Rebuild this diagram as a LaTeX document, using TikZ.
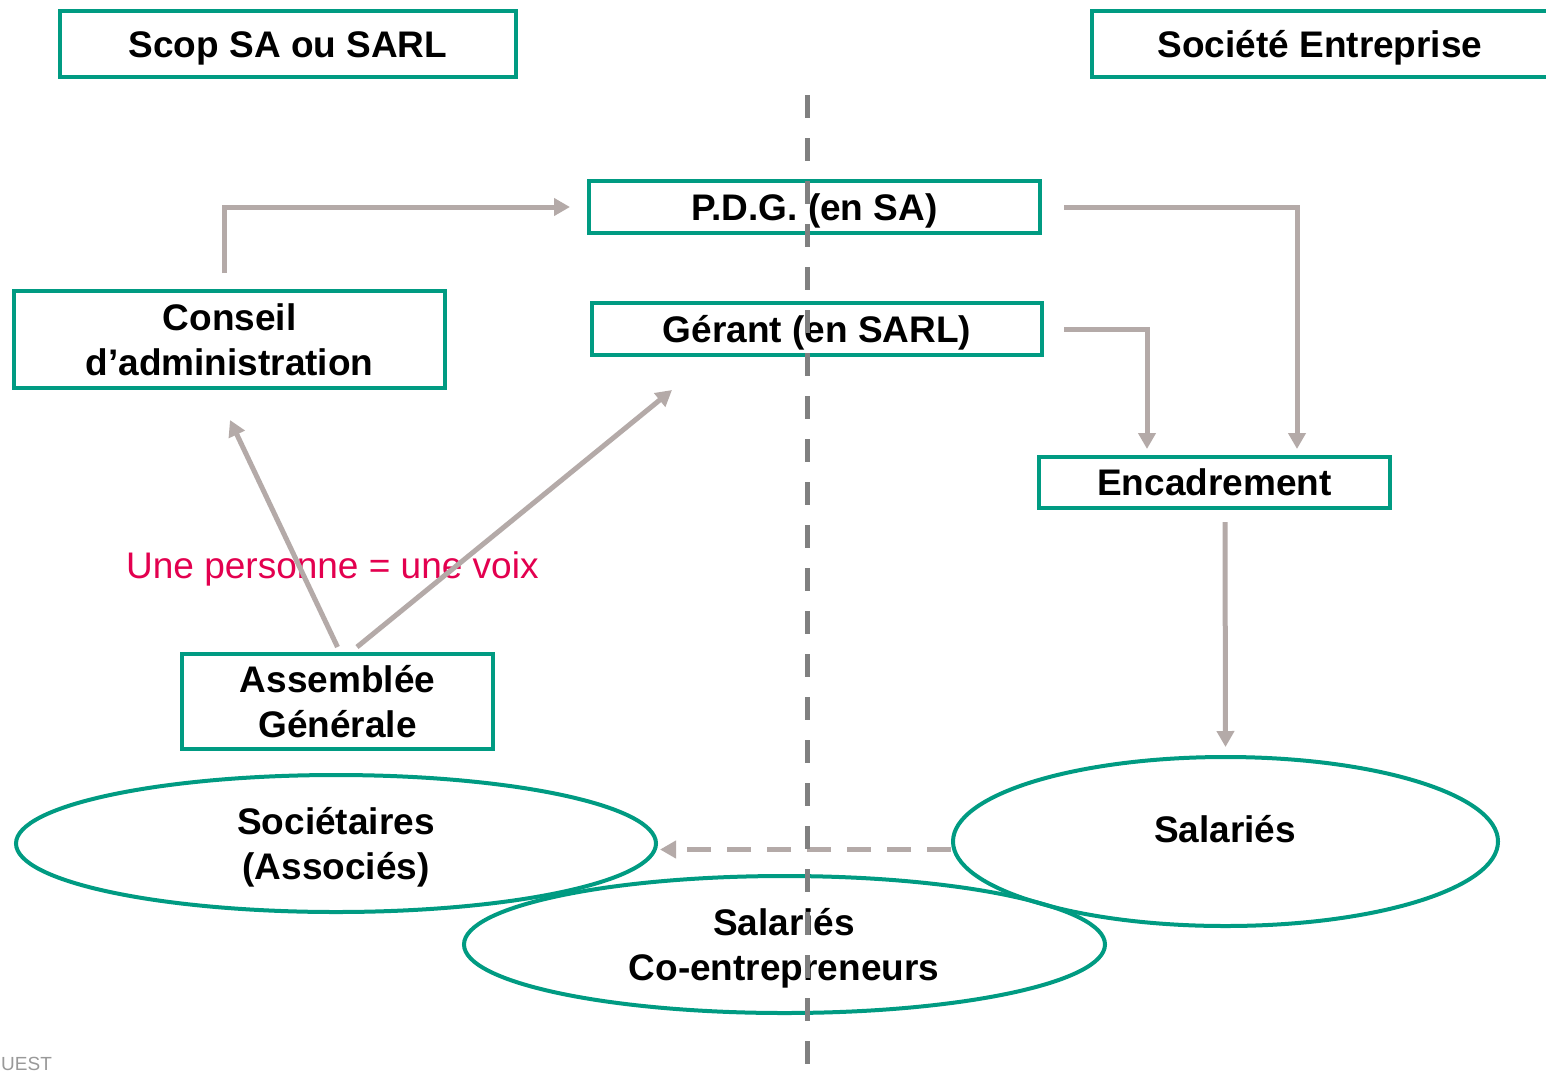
\documentclass[tikz,border=0pt]{standalone}
\usepackage{fontspec}
\setmainfont{Liberation Sans}
\usetikzlibrary{arrows.meta,calc,shapes.geometric}
\definecolor{teal1}{RGB}{0,155,130}
\definecolor{arrgray}{RGB}{180,170,168}
\definecolor{sepgray}{RGB}{128,128,128}
\definecolor{voixred}{RGB}{227,0,79}
\begin{document}
\begin{tikzpicture}[x=1pt,y=-1pt,
  box/.style={draw=teal1,line width=4pt,inner sep=0pt,align=center,font=\fontsize{37}{45}\selectfont\bfseries},
  one/.style={text height=32pt,text depth=6pt},
  ell/.style={draw=teal1,line width=4pt,ellipse,inner sep=0pt},
  lbl/.style={align=center,font=\fontsize{37}{45}\selectfont\bfseries},
  arr/.style={draw=arrgray,line width=5pt,-{Triangle[length=16pt,width=17pt]}},
  plain/.style={draw=arrgray,line width=5pt}]
\useasboundingbox (0,0) rectangle (1546,1074);
\fill[white] (0,0) rectangle (1546,1074);
% boxes
\node[box,one,minimum width=456pt,minimum height=66pt] (scop) at (288,44) {Scop SA ou SARL};
\node[box,one,minimum width=460pt,minimum height=66pt] (soc) at (1322,44) {\hspace*{-4pt}Société Entreprise};
\node[box,one,minimum width=451pt,minimum height=52pt] (pdg) at (814.5,207) {P.D.G. (en SA)};
\node[box,one,minimum width=450pt,minimum height=52pt] (ger) at (817,329) {Gérant (en SARL)};
\node[box,minimum width=431pt,minimum height=97pt] (cons) at (229.5,339.5) {Conseil\\d’administration};
\node[box,one,minimum width=351pt,minimum height=51pt] (enc) at (1214.5,482.5) {Encadrement};
\node[box,minimum width=311pt,minimum height=95pt] (ag) at (337.5,701.5) {Assemblée\\Générale};
% ellipses
\node[ell,minimum width=640pt,minimum height=137pt] (assoc) at (336,843.5) {};
\node[lbl] (assoctxt) at (336,847) {Sociétaires\\(Associés)};
\node[ell,minimum width=545pt,minimum height=169pt] (sal) at (1225.5,841.5) {};
\node[lbl] (saltxt) at (1225,829) {Salariés};
\node[ell,minimum width=641pt,minimum height=137pt] (coent) at (784.5,944.5) {};
\node[lbl] (coenttxt) at (784,948) {Salariés\\Co-entrepreneurs};
% red text
\node[text=voixred,font=\fontsize{37}{45}\selectfont,anchor=west,inner sep=0pt] (voix) at (126,569) {Une personne = une voix};
% footer fragment
\node[text=black!40,font=\fontsize{19}{23}\selectfont,anchor=base west,inner sep=0pt] (ouest) at (1,1070) {UEST};
% connectors
\draw[arr] ($(cons.north)+(-5.5,-16)$) |- ($(pdg.west)+(-17,0)$);
\draw[arr] ($(pdg.east)+(22,0)$) -| ($(enc.north)+(82.5,-6)$);
\draw[arr] ($(ger.east)+(20,0)$) -| ($(enc.north)+(-67.5,-6)$);
\draw[arr] ($(enc.south)+(10.5,12)$) -- ($(sal.north)+(0,-8)$);
\draw[arr] ($(ag.north)+(0,-5)$) -- ($(cons.south)+(0.5,30)$);
\draw[arr] ($(ag.north)+(19.5,-5)$) -- ($(ger.south)+(-145,33)$);
\draw[arr,dash pattern=on 24pt off 16pt] ($(sal.west)+(0,8)$) -- ($(assoc.east)+(2,6)$);
% separator
\coordinate (vtop) at (807,95);
\coordinate (vbot) at (807,1074);
\draw[sepgray,line width=5pt,dash pattern=on 23pt off 20pt] (vtop) -- (vbot);
\end{tikzpicture}
\end{document}
